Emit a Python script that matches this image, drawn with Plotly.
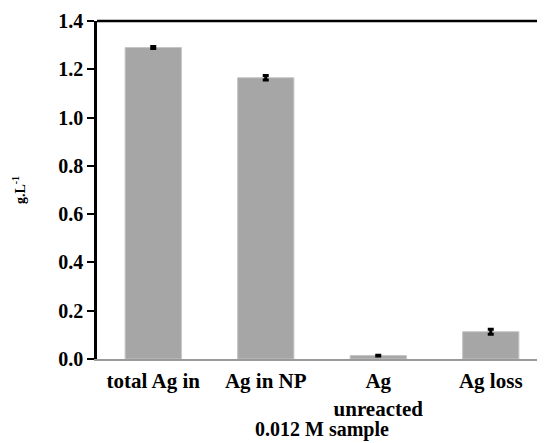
import plotly.graph_objects as go

categories = ["total Ag in", "Ag in NP", "Ag<br>unreacted", "Ag loss"]
values = [1.29, 1.165, 0.014, 0.113]
errors = [0.004, 0.009, 0.002, 0.01]
y_ticks = [0.0, 0.2, 0.4, 0.6, 0.8, 1.0, 1.2, 1.4]
y_tick_labels = ["0.0", "0.2", "0.4", "0.6", "0.8", "1.0", "1.2", "1.4"]
x_title = "0.012 M sample"
y_title = "g.L<sup>-1</sup>"

font_family = "Liberation Serif, Times New Roman, serif"

fig = go.Figure()
fig.add_trace(go.Bar(
    x=list(range(len(categories))),
    y=values,
    width=0.5,
    marker=dict(color="#a6a6a6", line=dict(color="#c4c4c4", width=1)),
    error_y=dict(type="data", array=errors, visible=True, color="black",
                 thickness=3, width=3),
))

fig.update_layout(
    width=545, height=443,
    margin=dict(l=89, r=6, t=13, b=92, autoexpand=False),
    plot_bgcolor="white", paper_bgcolor="white",
    showlegend=False,
    font=dict(family=font_family, color="black"),
    xaxis=dict(
        range=[-0.5, 3.5],
        tickmode="array",
        tickvals=list(range(len(categories))),
        ticktext=["<b>%s</b>" % c for c in categories],
        tickfont=dict(size=21, family=font_family, color="black"),
        showgrid=False, zeroline=False,
        showline=True, linecolor="#9a9a9a", linewidth=2,
        ticks="", ticklabelstandoff=2,
        automargin=False,
    ),
    yaxis=dict(
        range=[0, 1.4],
        tickmode="array",
        tickvals=y_ticks,
        ticktext=["<b>%s</b>" % t for t in y_tick_labels],
        tickfont=dict(size=20, family=font_family, color="black"),
        showgrid=False,
        zeroline=False,
        showline=True, linecolor="black", linewidth=2.5,
        ticks="outside", ticklen=7, tickwidth=2, tickcolor="black",
        automargin=False,
        title=dict(text="<b>%s</b>" % y_title, font=dict(size=14, family=font_family), standoff=30),
    ),
    shapes=[dict(type="line", xref="paper", yref="paper", x0=0, x1=1, y0=1, y1=1,
                 line=dict(color="black", width=2.5))],
    annotations=[dict(text="<b>%s</b>" % x_title, xref="paper", yref="paper",
                      x=0.5, y=-0.208, xanchor="center", yanchor="middle",
                      showarrow=False, font=dict(size=20, family=font_family, color="black"))],
)
fig.write_html("out.html")
